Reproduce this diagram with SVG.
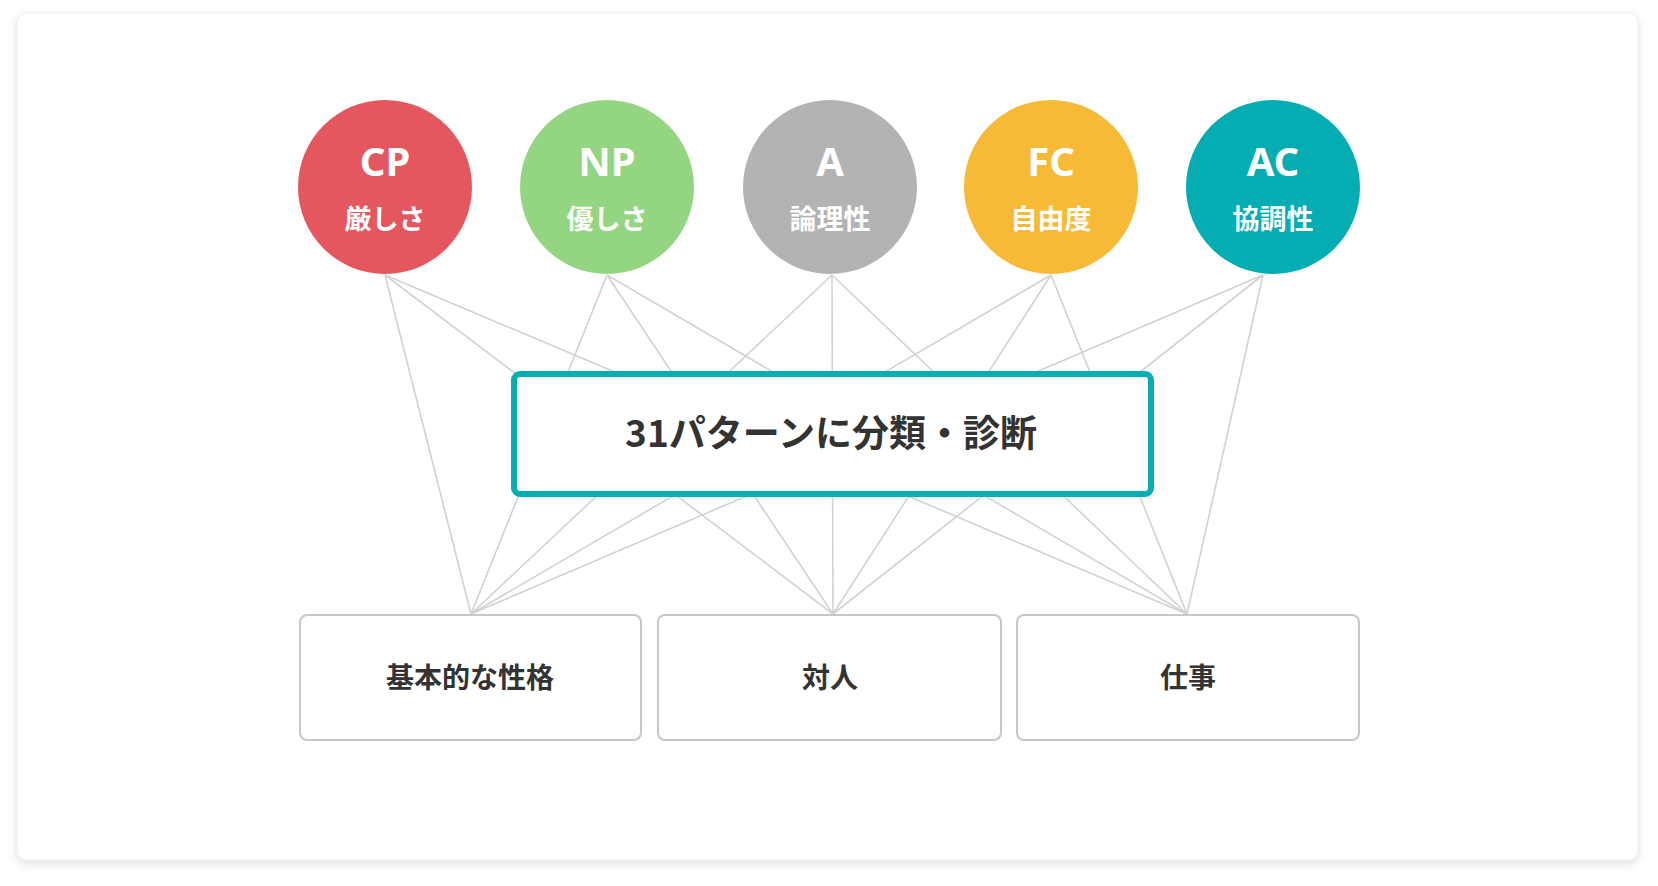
<svg xmlns="http://www.w3.org/2000/svg" width="1658" height="886" viewBox="0 0 1658 886">
<defs>
<filter id="sh" x="-5%" y="-5%" width="110%" height="115%">
<feDropShadow dx="0" dy="3" stdDeviation="5" flood-color="#000" flood-opacity="0.12"/>
</filter>
<style>
.big{font-family:"Noto Sans","Noto Sans CJK JP",sans-serif;font-weight:700;font-size:40px;fill:#fff;text-anchor:middle}
.sub{font-family:"Noto Sans CJK JP",sans-serif;font-weight:700;font-size:27px;fill:#fff;text-anchor:middle}
.lbl{font-family:"Noto Sans CJK JP",sans-serif;font-weight:700;font-size:28px;fill:#333;text-anchor:middle}
.ttl{font-family:"Noto Sans CJK JP",sans-serif;font-weight:700;font-size:37px;fill:#333;text-anchor:middle}
.box{fill:#fff;stroke:#c8c8c8;stroke-width:2}
.cn line{stroke:#d2d2d2;stroke-width:1.6}
</style>
</defs>
<rect x="0" y="0" width="1658" height="886" fill="#fff"/>
<rect x="17" y="13" width="1621" height="847" rx="9" fill="#fff" stroke="#ececec" stroke-width="1" filter="url(#sh)"/>
<g id="connectors" class="cn">
<line x1="385" y1="275" x2="471" y2="614"/>
<line x1="385" y1="275" x2="833" y2="614"/>
<line x1="385" y1="275" x2="1187" y2="614"/>
<line x1="607" y1="275" x2="471" y2="614"/>
<line x1="607" y1="275" x2="833" y2="614"/>
<line x1="607" y1="275" x2="1187" y2="614"/>
<line x1="832" y1="275" x2="471" y2="614"/>
<line x1="832" y1="275" x2="833" y2="614"/>
<line x1="832" y1="275" x2="1187" y2="614"/>
<line x1="1051" y1="275" x2="471" y2="614"/>
<line x1="1051" y1="275" x2="833" y2="614"/>
<line x1="1051" y1="275" x2="1187" y2="614"/>
<line x1="1263" y1="275" x2="471" y2="614"/>
<line x1="1263" y1="275" x2="833" y2="614"/>
<line x1="1263" y1="275" x2="1187" y2="614"/>
</g>
<g id="cp"><circle cx="385" cy="187" r="87" fill="#E5575F"/><text class="big" x="385" y="176">CP</text><text class="sub" x="385" y="229">厳しさ</text></g>
<g id="np"><circle cx="607" cy="187" r="87" fill="#94D582"/><text class="big" x="607" y="176">NP</text><text class="sub" x="607" y="229">優しさ</text></g>
<g id="a"><circle cx="830" cy="187" r="87" fill="#B3B3B3"/><text class="big" x="830" y="176">A</text><text class="sub" x="830" y="229">論理性</text></g>
<g id="fc"><circle cx="1051" cy="187" r="87" fill="#F6BA37"/><text class="big" x="1051" y="176">FC</text><text class="sub" x="1051" y="229">自由度</text></g>
<g id="ac"><circle cx="1273" cy="187" r="87" fill="#03ADB2"/><text class="big" x="1273" y="176">AC</text><text class="sub" x="1273" y="229">協調性</text></g>
<g id="center"><rect x="514" y="374" width="637" height="120" rx="6" fill="#fff" stroke="#03ADB2" stroke-width="6"/><text class="ttl" x="831" y="447">31パターンに分類・診断</text></g>
<g id="basic"><rect class="box" x="300" y="615" width="341" height="125" rx="7"/><text class="lbl" x="470" y="688">基本的な性格</text></g>
<g id="interpersonal"><rect class="box" x="658" y="615" width="343" height="125" rx="7"/><text class="lbl" x="830" y="688">対人</text></g>
<g id="work"><rect class="box" x="1017" y="615" width="342" height="125" rx="7"/><text class="lbl" x="1188" y="688">仕事</text></g>
</svg>
